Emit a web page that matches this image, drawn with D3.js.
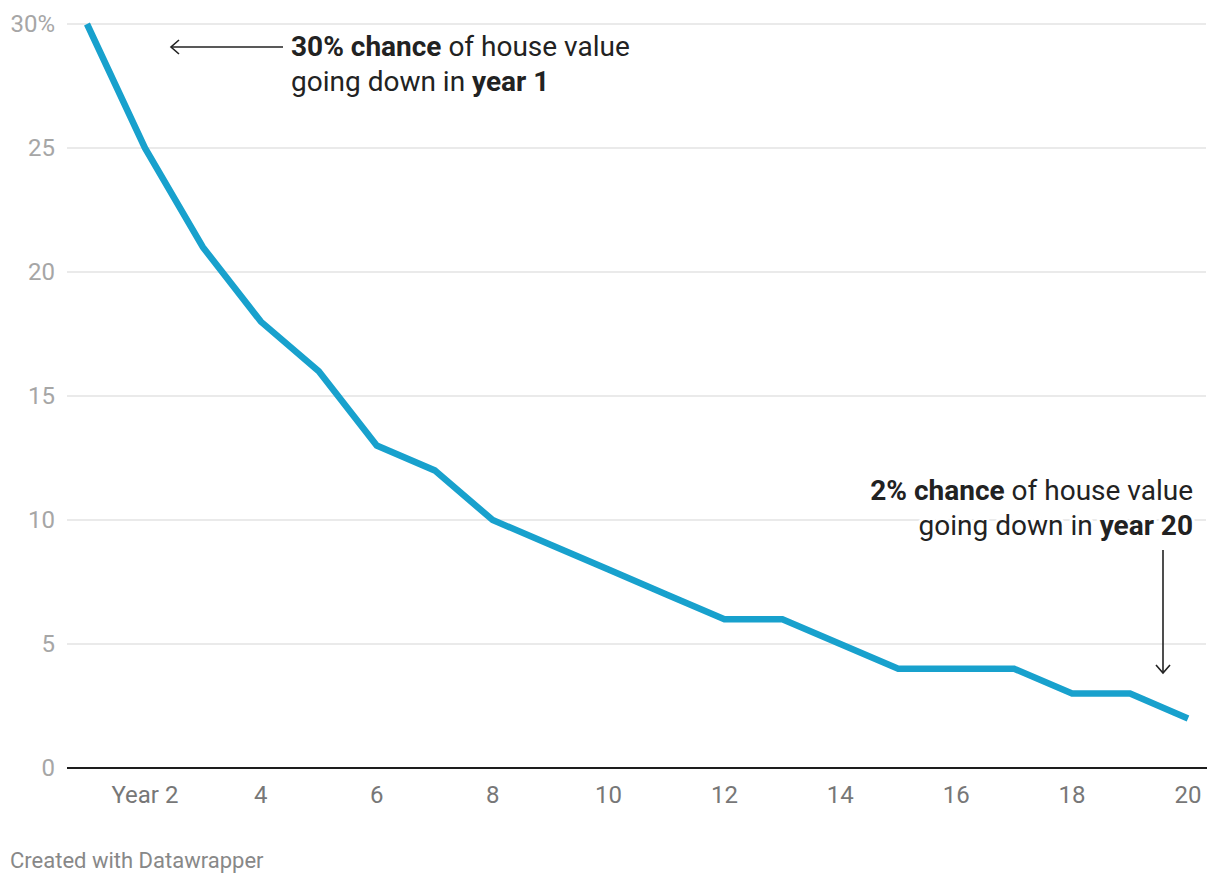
<!DOCTYPE html>
<html><head><meta charset="utf-8">
<script src="https://cdn.jsdelivr.net/npm/d3@7"></script>
<style>
body{margin:0;background:#fff;}
svg{display:block;font-family:Roboto, "Noto Sans", sans-serif;}
</style></head>
<body>
<script>
const years = [1,2,3,4,5,6,7,8,9,10,11,12,13,14,15,16,17,18,19,20];
const values = [30,25,21,18,16,13,12,10,9,8,7,6,6,5,4,4,4,3,3,2];
const yTicks = [0,5,10,15,20,25,30];
const xTicks = [2,4,6,8,10,12,14,16,18,20];
const xTickLabels = ["Year 2","4","6","8","10","12","14","16","18","20"];

const W=1220,H=884;
const svg=d3.select("body").append("svg").attr("width",W).attr("height",H);
const x=d3.scaleLinear().domain([1,20]).range([87,1188]);
const y=d3.scaleLinear().domain([0,30]).range([768,24]);
const gridL=67, gridR=1206;

// gridlines
svg.append("g").selectAll("line").data(yTicks.filter(d=>d>0)).join("line")
 .attr("x1",gridL).attr("x2",gridR).attr("y1",d=>y(d)).attr("y2",d=>y(d))
 .attr("stroke","#e3e3e3").attr("stroke-width",1.5);
// y labels
svg.append("g").selectAll("text").data(yTicks).join("text")
 .attr("x",55).attr("y",d=>y(d)).attr("dy","0.35em").attr("text-anchor","end")
 .attr("font-size",24).attr("fill","#a6a6a6").text(d=>d===30?"30%":d);
// baseline
svg.append("line").attr("x1",gridL).attr("x2",gridR+1).attr("y1",y(0)).attr("y2",y(0))
 .attr("stroke","#1d1d1d").attr("stroke-width",2);
// x labels
svg.append("g").selectAll("text").data(xTicks).join("text")
 .attr("x",d=>x(d)).attr("y",803).attr("text-anchor","middle")
 .attr("font-size",24).attr("fill","#777").text((d,i)=>xTickLabels[i]);

// line
svg.append("path").datum(years.map((d,i)=>[d,values[i]]))
 .attr("d",d3.line().x(d=>x(d[0])).y(d=>y(d[1])))
 .attr("fill","none").attr("stroke","#18a1cd").attr("stroke-width",6.5)
 .attr("stroke-linejoin","miter").attr("stroke-linecap","butt");

// annotations
function anno(xp,yp,anchor,lines){
  const t=svg.append("text").attr("x",xp).attr("y",yp).attr("text-anchor",anchor)
   .attr("font-size",28).attr("fill","#222")
   .attr("stroke","#fff").attr("stroke-width",6).attr("paint-order","stroke").attr("stroke-linejoin","round");
  lines.forEach((ln,i)=>{
    const ts=t.append("tspan").attr("x",xp).attr("dy",i===0?0:35);
    ln.forEach(seg=>ts.append("tspan").attr("font-weight",seg[1]?700:400).text(seg[0]));
  });
}
anno(291,56,"start",[[["30% chance",1],[" of house value",0]],[["going down in ",0],["year 1",1]]]);
anno(1193,500,"end",[[["2% chance",1],[" of house value",0]],[["going down in ",0],["year 20",1]]]);

// arrows
const arr=svg.append("g").attr("stroke","#222").attr("stroke-width",1.6).attr("fill","none");
arr.append("line").attr("x1",283).attr("x2",171).attr("y1",47).attr("y2",47);
arr.append("path").attr("d","M179,40 L171,47 L179,54");
arr.append("line").attr("x1",1163).attr("x2",1163).attr("y1",550).attr("y2",673);
arr.append("path").attr("d","M1156,665 L1163,673 L1170,665");

// footer
svg.append("text").attr("x",10).attr("y",868).attr("font-size",22).attr("fill","#888")
 .text("Created with Datawrapper");
</script>
</body></html>
